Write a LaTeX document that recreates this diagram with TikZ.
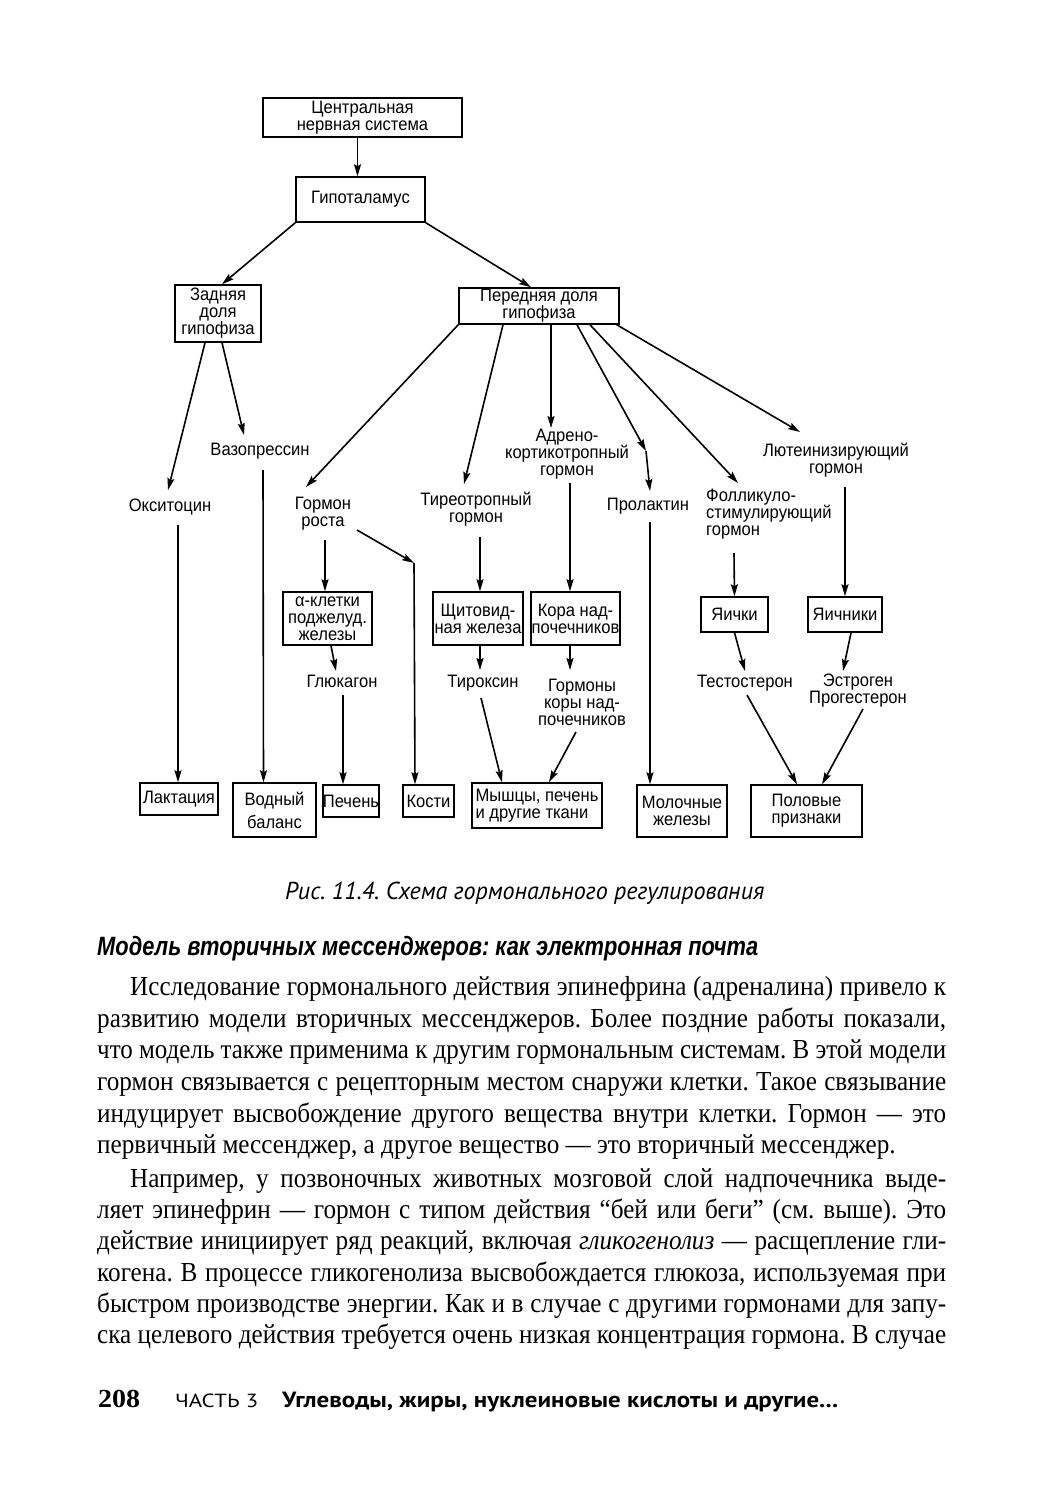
\documentclass[tikz,border=0pt]{standalone}
\usepackage{fontspec}
\usepackage{graphicx}
\usetikzlibrary{arrows.meta,calc}
\newfontfamily\diafont[FakeStretch=0.92]{Liberation Sans}
\newfontfamily\bodyfont[FakeStretch=0.915]{Liberation Serif}
\newfontfamily\headfont{Liberation Sans}
\newfontfamily\capfont{PT Sans}
\newcommand\dfont{\diafont\fontsize{18}{17}\selectfont\lineskiplimit-20pt\relax}
\newlength\jlw
\newcommand\jline[2]{\settowidth\jlw{#2}\ifdim\jlw>#1\relax\resizebox{#1}{\height}{#2}\else\makebox[#1][s]{#2}\fi}
\frenchspacing
\begin{document}
\begin{tikzpicture}[x=1pt,y=-1pt,
  lbl/.style={inner sep=0pt, align=center, font=\dfont},
  bx/.style={lbl, draw, line width=1.5pt},
  arr/.style={line width=1.6pt, -{Stealth[length=12pt,width=7pt,inset=2pt]}},
  body/.style={anchor=base west, inner sep=0pt, font=\bodyfont\fontsize{27.5}{32}\selectfont\frenchspacing}]
\fill[white] (0,0) rectangle (1044,1500);
\useasboundingbox (0,0) rectangle (1044,1500);

% boxes
\node[bx, minimum width=199pt, minimum height=39pt] (cns) at (362.5,117.5) {Центральная\\нервная система};
\node[bx, minimum width=129pt, minimum height=45pt] (hyp) at (360.5,199.5) {Гипоталамус};
\node[bx, minimum width=86pt, minimum height=57pt] (zad) at (218,313.5) {Задняя\\доля\\гипофиза};
\node[bx, minimum width=160pt, minimum height=36pt] (per) at (539,306) {Передняя доля\\гипофиза};
\node[bx, minimum width=89pt, minimum height=53pt] (alf) at (327.5,618.5) {α-клетки\\поджелуд.\\железы};
\node[bx, minimum width=90pt, minimum height=53pt] (shch) at (478,618.5) {Щитовид-\\ная железа};
\node[bx, minimum width=89pt, minimum height=53pt] (kora) at (575.5,618.5) {Кора над-\\почечников};
\node[bx, minimum width=67pt, minimum height=35pt] (yai) at (734.5,614.5) {Яички};
\node[bx, minimum width=74pt, minimum height=35pt] (yaic) at (845,614.5) {Яичники};
\node[bx, minimum width=78pt, minimum height=32pt] (lak) at (179,799) {Лактация};
\node[bx, minimum width=83pt, minimum height=54pt] (vod) at (274.5,810) {Водный\\[6pt]баланс};
\node[bx, minimum width=52pt, minimum height=32pt] (pech) at (351,801) {Печень};
\node[bx, minimum width=51pt, minimum height=32pt] (kos) at (428.5,801) {Кости};
\node[bx, minimum width=130pt, minimum height=45pt, align=left] (mysh) at (537,805.5) {Мышцы, печень\\и другие ткани};
\node[bx, minimum width=90pt, minimum height=52pt] (mol) at (682,811) {Молочные\\железы};
\node[bx, minimum width=111pt, minimum height=52pt] (pol) at (806.5,811) {Половые\\признаки};

% labels
\node[lbl] (vaz) at (260,451) {Вазопрессин};
\node[lbl] (oks) at (170,507) {Окситоцин};
\node[lbl] (gr) at (323,514) {Гормон\\роста};
\node[lbl] (tir) at (476,509) {Тиреотропный\\гормон};
\node[lbl] (adr) at (567,454) {Адрено-\\кортикотропный\\гормон};
\node[lbl] (prl) at (648,506) {Пролактин};
\node[lbl, anchor=west, align=left] (fol) at (706,514) {Фолликуло-\\стимулирующий\\гормон};
\node[lbl] (lut) at (836,460) {Лютеинизирующий\\гормон};
\node[lbl] (glu) at (342,681) {Глюкагон};
\node[lbl] (tyr) at (483,683) {Тироксин};
\node[lbl] (gk) at (582,702) {Гормоны\\коры над-\\почечников};
\node[lbl] (tes) at (745,683) {Тестостерон};
\node[lbl] (est) at (858,691) {Эстроген\\Прогестерон};

% connectors
\draw[arr] ($(cns.south)+(-5,0)$) -- ($(hyp.north)+(-3,0)$);
\draw[arr] (hyp.south west) -- ($(zad.north)+(4,0)$);
\draw[arr] (hyp.south east) -- ($(per.north)+(-8,0)$);
\draw[arr] ($(zad.south)+(-13,0)$) -- ($(oks.center)+(-2,-17)$);
\draw[arr] ($(zad.south)+(4,0)$) -- ($(vaz.center)+(-16,-16)$);
\draw[arr] ($(vaz.center)+(3,19)$) -- ($(vod.north)+(-11,0)$);
\draw[arr] ($(oks.center)+(8,18)$) -- ($(lak.north)+(-1,0)$);
\draw[arr] (per.south west) -- ($(gr.center)+(-17,-27)$);
\draw[arr] ($(per.south)+(-36,0)$) -- ($(tir.center)+(-12,-25)$);
\draw[arr] ($(per.south)+(12,0)$) -- ($(adr.center)+(-16,-26)$);
\coordinate (prlbend) at (646,451);
\draw[arr] ($(per.south)+(38,0)$) -- (prlbend);
\draw[arr] (prlbend) -- ($(prl.center)+(2,-15)$);
\draw[arr] ($(per.south)+(51,0)$) -- ($(fol.west)+(32,-31)$);
\draw[arr] ($(per.south east)+(-3,0)$) -- ($(lut.center)+(-36,-28)$);
\draw[arr] ($(gr.center)+(2,26)$) -- ($(alf.north)+(-2.5,0)$);
\coordinate (kosbend) at (414,563);
\draw[arr] ($(gr.center)+(34,16)$) -- (kosbend);
\draw[arr] (kosbend) -- ($(kos.north)+(-13.5,0)$);
\draw[arr] ($(alf.south)+(3.5,0)$) -- ($(glu.center)+(-6,-10)$);
\draw[arr] ($(glu.center)+(1,14)$) -- ($(pech.north)+(-8,0)$);
\draw[arr] ($(tir.center)+(4,28)$) -- ($(shch.north)+(2,0)$);
\draw[arr] ($(adr.center)+(3,29)$) -- ($(kora.north)+(-5.5,0)$);
\draw[arr] ($(shch.south)+(2,0)$) -- ($(tyr.center)+(-3,-13)$);
\draw[arr] ($(kora.south)+(-5.5,0)$) -- ($(gk.center)+(-12,-32)$);
\draw[arr] ($(tyr.center)+(-2,15)$) -- ($(mysh.north)+(-35,0)$);
\draw[arr] ($(gk.center)+(-6,30)$) -- ($(mysh.north)+(12,0)$);
\draw[arr] ($(prl.center)+(2,16)$) -- ($(mol.north)+(-32,0)$);
\draw[arr] ($(fol.west)+(28,39)$) -- (yai.north);
\draw[arr] ($(lut.center)+(9,27)$) -- (yaic.north);
\draw[arr] (yai.south) -- ($(tes.center)+(0,-12)$);
\draw[arr] ($(yaic.south)+(6,0)$) -- ($(est.center)+(-15,-20)$);
\draw[arr] ($(tes.center)+(2,12)$) -- ($(pol.north)+(-9.5,0)$);
\draw[arr] ($(est.center)+(5,18)$) -- ($(pol.north)+(15.5,0)$);

% caption and heading
\node[anchor=base west, inner sep=0pt, font=\capfont\itshape\fontsize{24.5}{26}\selectfont] (cap) at (285,899) {\resizebox{479pt}{\height}{Рис. 11.4. Схема гормонального регулирования}};
\node[anchor=base west, inner sep=0pt, font=\headfont\bfseries\itshape\fontsize{26.5}{30}\selectfont] (head) at (97,955) {\resizebox{661pt}{\height}{Модель вторичных мессенджеров: как электронная почта}};

% body text
\node[body] (b1) at (130,995) {\jline{816pt}{Исследование гормонального действия эпинефрина (адреналина) привело к}};
\node[body] (b2) at (97,1027) {\jline{849pt}{развитию модели вторичных мессенджеров. Более поздние работы показали,}};
\node[body] (b3) at (97,1058.5) {\jline{849pt}{что модель также применима к другим гормональным системам. В этой модели}};
\node[body] (b4) at (97,1090) {\jline{849pt}{гормон связывается с рецепторным местом снаружи клетки. Такое связывание}};
\node[body] (b5) at (97,1122) {\jline{849pt}{индуцирует высвобождение другого вещества внутри клетки. Гормон — это}};
\node[body] (b6) at (97,1153) {первичный мессенджер, а другое вещество — это вторичный мессенджер.};
\node[body] (b7) at (130,1187) {\jline{816pt}{Например, у позвоночных животных мозговой слой надпочечника выде-}};
\node[body] (b8) at (97,1218) {\jline{849pt}{ляет эпинефрин — гормон с типом действия “бей или беги” (см. выше). Это}};
\node[body] (b9) at (97,1249.5) {\jline{849pt}{действие инициирует ряд реакций, включая \textit{гликогенолиз} — расщепление гли-}};
\node[body] (b10) at (97,1281) {\jline{849pt}{когена. В процессе гликогенолиза высвобождается глюкоза, используемая при}};
\node[body] (b11) at (97,1312) {\jline{849pt}{быстром производстве энергии. Как и в случае с другими гормонами для запу-}};
\node[body] (b12) at (97,1343.5) {\jline{849pt}{ска целевого действия требуется очень низкая концентрация гормона. В случае}};

% footer
\node[anchor=base west, inner sep=0pt, font=\bodyfont\bfseries\fontsize{26}{28}\selectfont] (pg) at (98,1407) {\resizebox{42pt}{\height}{208}};
\node[anchor=base west, inner sep=0pt, font=\capfont\fontsize{19}{20}\selectfont] (part) at (175,1407) {\resizebox{83pt}{\height}{ЧАСТЬ 3}};
\node[anchor=base west, inner sep=0pt, font=\capfont\bfseries\fontsize{22}{24}\selectfont] (title) at (282,1407) {\resizebox{556pt}{\height}{Углеводы, жиры, нуклеиновые кислоты и другие...}};
\end{tikzpicture}
\end{document}
